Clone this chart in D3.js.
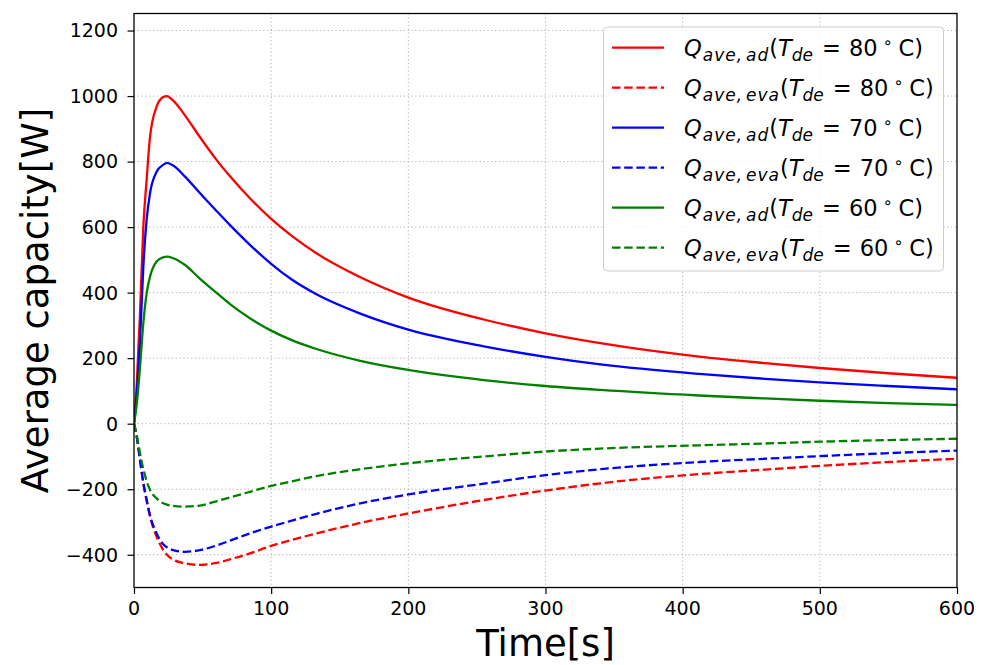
<!DOCTYPE html>
<html>
<head>
<meta charset="utf-8">
<script src="https://cdn.jsdelivr.net/npm/d3@7/dist/d3.min.js"></script>
<style>
  html, body { margin: 0; padding: 0; background: #fff; }
  svg { display: block; font-family: "DejaVu Sans", sans-serif; }
</style>
</head>
<body>
<svg id="chart" width="981" height="665"></svg>
<script>
// Sampling instants (s)
const time = [0, 2, 4.4, 6.8, 9.2, 11.7, 16.5, 21.3, 24, 28.6, 37, 48, 60, 70, 84.5, 100, 115, 133, 165, 200, 255, 300, 340, 412, 460, 500, 550, 600];

// Average adsorption / evaporation capacity (W) per desorption temperature
const qAd80  = [0, 120, 338, 601, 744, 876, 968, 997, 1000, 986, 942, 875, 806, 755, 688, 625, 573, 520, 447, 385, 318, 276, 246, 205, 185, 170, 154, 140];
const qEva80 = [0, -40, -111, -182, -235, -284, -345, -385, -400, -415, -426, -431, -425, -414, -396, -373, -355, -335, -303, -274, -233, -204, -182, -154, -140, -129, -117, -107];
const qAd70  = [0, 90, 255, 479, 622, 704, 769, 790, 796, 788, 755, 704, 650, 606, 546, 488, 440, 395, 336, 287, 236, 204, 181, 152, 137, 126, 115, 105];
const qEva70 = [0, -40, -111, -180, -232, -280, -335, -368, -377, -386, -391, -386, -372, -357, -335, -314, -296, -275, -243, -216, -183, -157, -139, -117, -107, -99, -90, -82];
const qAd60  = [0, 60, 174, 307, 398, 449, 495, 508, 510, 505, 485, 443, 400, 365, 322, 284, 255, 228, 192, 164, 133, 115, 103, 86, 77, 70, 63, 57];
const qEva60 = [0, -35, -91, -138, -175, -202, -228, -243, -247, -251, -253, -250, -237, -225, -208, -190, -176, -160, -139, -121, -100, -85, -76, -66, -60.5, -55, -50, -46];

const xTicks = [0, 100, 200, 300, 400, 500, 600];
const yTicks = [-400, -200, 0, 200, 400, 600, 800, 1000, 1200];

const series = [
  { values: qAd80,  color: "#ff0000", dashed: false, sub: ["ave,", "ad"],  temp: "80" },
  { values: qEva80, color: "#ff0000", dashed: true,  sub: ["ave,", "eva"], temp: "80" },
  { values: qAd70,  color: "#0000ff", dashed: false, sub: ["ave,", "ad"],  temp: "70" },
  { values: qEva70, color: "#0000ff", dashed: true,  sub: ["ave,", "eva"], temp: "70" },
  { values: qAd60,  color: "#008000", dashed: false, sub: ["ave,", "ad"],  temp: "60" },
  { values: qEva60, color: "#008000", dashed: true,  sub: ["ave,", "eva"], temp: "60" }
];

const svg = d3.select("#chart");
const plot = { left: 134, right: 957, top: 13.5, bottom: 587.5 };

const x = d3.scaleLinear().domain([0, 600]).range([plot.left, plot.right]);
const y = d3.scaleLinear().domain([-500, 1252]).range([plot.bottom, plot.top]);

// dotted grid
const grid = svg.append("g").attr("stroke", "#b0b0b0").attr("stroke-width", 1)
  .attr("stroke-dasharray", "1.2,2.6");
grid.selectAll("line.gx").data(xTicks.slice(1, -1)).join("line")
  .attr("x1", d => x(d)).attr("x2", d => x(d))
  .attr("y1", plot.top).attr("y2", plot.bottom);
grid.selectAll("line.gy").data(yTicks).join("line")
  .attr("y1", d => y(d)).attr("y2", d => y(d))
  .attr("x1", plot.left).attr("x2", plot.right);

// curves
svg.append("clipPath").attr("id", "clip").append("rect")
  .attr("x", plot.left).attr("y", plot.top)
  .attr("width", plot.right - plot.left).attr("height", plot.bottom - plot.top);

const line = d3.line()
  .x((d, i) => x(time[i]))
  .y(d => y(d))
  .curve(d3.curveMonotoneX);

const lines = svg.append("g").attr("clip-path", "url(#clip)");
series.forEach(s => {
  lines.append("path")
    .attr("d", line(s.values))
    .attr("fill", "none")
    .attr("stroke", s.color)
    .attr("stroke-width", 2.3)
    .attr("stroke-dasharray", s.dashed ? "8.5,3.7" : null);
});

// axes: ticks from d3, labels set explicitly
const fmt = d => d < 0 ? "\u2212" + Math.abs(d) : String(d);
const xAxis = svg.append("g").attr("transform", `translate(0,${plot.bottom})`)
  .call(d3.axisBottom(x).tickValues(xTicks).tickFormat("").tickSize(6.5));
const yAxis = svg.append("g").attr("transform", `translate(${plot.left},0)`)
  .call(d3.axisLeft(y).tickValues(yTicks).tickFormat("").tickSize(6.5));
[xAxis, yAxis].forEach(a => {
  a.select(".domain").remove();
  a.selectAll(".tick line").attr("stroke", "#000").attr("stroke-width", 1.2);
});

const tickLabels = svg.append("g")
  .style("font-family", "'DejaVu Sans'").style("font-size", "19px").attr("fill", "#000");
tickLabels.selectAll("text.xl").data(xTicks).join("text")
  .attr("x", d => x(d)).attr("y", 615)
  .attr("text-anchor", "middle").text(fmt);
tickLabels.selectAll("text.yl").data(yTicks).join("text")
  .attr("x", 118).attr("y", d => y(d) + 6.9)
  .attr("text-anchor", "end").text(fmt);

// frame
svg.append("rect")
  .attr("x", plot.left).attr("y", plot.top)
  .attr("width", plot.right - plot.left).attr("height", plot.bottom - plot.top)
  .attr("fill", "none").attr("stroke", "#000").attr("stroke-width", 1.3);

// axis titles
svg.append("text")
  .attr("x", (plot.left + plot.right) / 2).attr("y", 656)
  .attr("text-anchor", "middle").style("font-size", "37px").text("Time[s]");
svg.append("text")
  .attr("transform", `translate(48,${(plot.top + plot.bottom) / 2}) rotate(-90)`)
  .attr("text-anchor", "middle").style("font-size", "37px").text("Average capacity[W]");

// legend
const leg = svg.append("g");
leg.append("rect")
  .attr("x", 603.5).attr("y", 27).attr("width", 340).attr("height", 244)
  .attr("rx", 4).attr("fill", "#fff").attr("fill-opacity", 0.8)
  .attr("stroke", "#cccccc").attr("stroke-width", 1);

series.forEach((s, i) => {
  const cy = 47.7 + i * 40;
  leg.append("line")
    .attr("x1", 612).attr("x2", 664).attr("y1", cy).attr("y2", cy)
    .attr("stroke", s.color).attr("stroke-width", 2.3)
    .attr("stroke-dasharray", s.dashed ? "8.5,3.7" : null);
  const t = leg.append("text").attr("x", 684).attr("y", cy + 8)
    .style("font-size", "22.5px").attr("fill", "#000");
  t.append("tspan").style("font-style", "italic").text("Q");
  t.append("tspan").style("font-style", "italic").style("font-size", "17px")
    .style("letter-spacing", "1px").attr("dy", 5).attr("dx", 1).text(s.sub[0]);
  t.append("tspan").style("font-style", "italic").style("font-size", "17px")
    .style("letter-spacing", "1px").attr("dx", 3).text(s.sub[1]);
  t.append("tspan").attr("dy", -5).text("(");
  t.append("tspan").style("font-style", "italic").text("T");
  t.append("tspan").style("font-style", "italic").style("font-size", "17px")
    .attr("dy", 5).text("de");
  t.append("tspan").attr("dy", -5).attr("dx", 9).text("=");
  t.append("tspan").attr("dx", 8).text(s.temp);
  t.append("tspan").style("font-size", "16px").attr("dy", -7.5).attr("dx", 5).text("\u2218");
  t.append("tspan").attr("dy", 7.5).attr("dx", 6).text("C)");
});
</script>
</body>
</html>
